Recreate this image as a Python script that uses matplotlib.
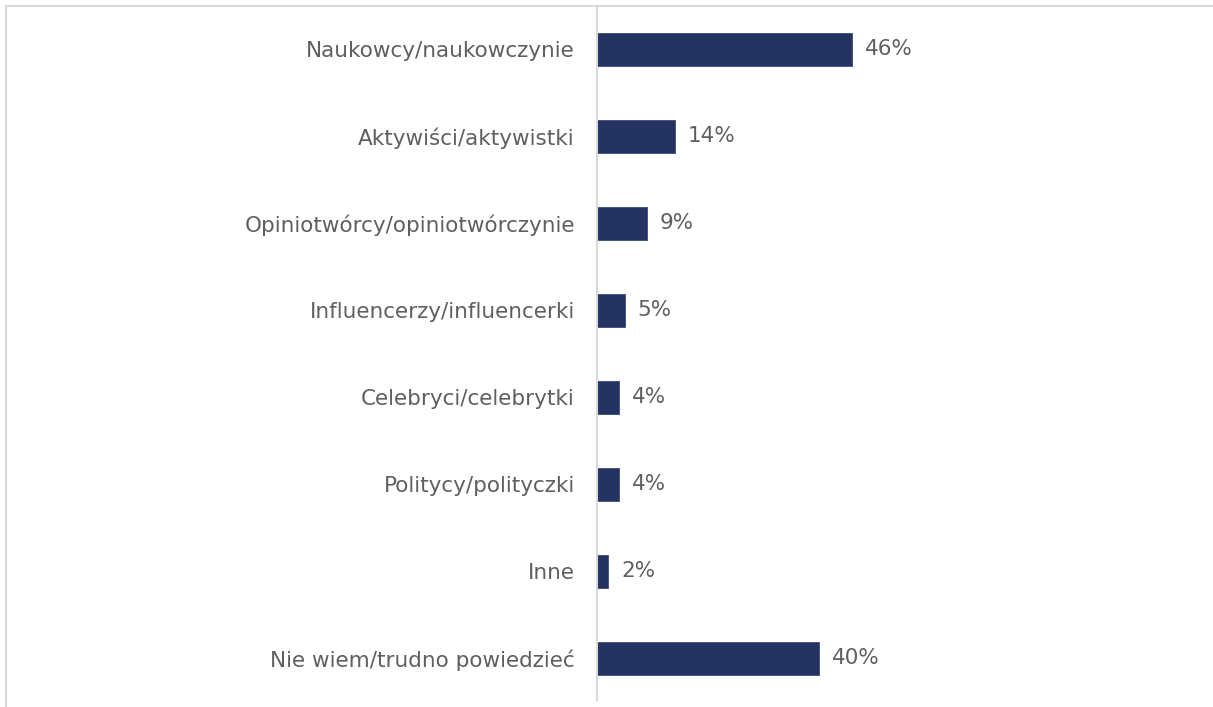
import matplotlib
matplotlib.use("Agg")
import matplotlib.pyplot as plt
from matplotlib.lines import Line2D

categories = [
    "Naukowcy/naukowczynie",
    "Aktywiści/aktywistki",
    "Opiniotwórcy/opiniotwórczynie",
    "Influencerzy/influencerki",
    "Celebryci/celebrytki",
    "Politycy/polityczki",
    "Inne",
    "Nie wiem/trudno powiedzieć",
]
values = [46, 14, 9, 5, 4, 4, 2, 40]
value_labels = ["46%", "14%", "9%", "5%", "4%", "4%", "2%", "40%"]

W, H = 1213, 707
fig = plt.figure(figsize=(W / 100, H / 100), dpi=100)
fig.patch.set_facecolor("white")

ax_left = 597 / W
ax_top = 6
ax_bottom = 700
ax = fig.add_axes([ax_left, 1 - ax_bottom / H, 1 - ax_left, (ax_bottom - ax_top) / H])

px_per_unit = 5.54
xmax = (W - 597) / px_per_unit
spacing = 87.0
ypos = list(range(len(categories)))
ax.barh(ypos, values, height=33 / spacing, color="#243362", edgecolor="#3b4a78", linewidth=0.6)
ax.set_xlim(0, xmax)
ax.set_ylim(len(categories) - 1 + (ax_bottom - 658) / spacing, -(49 - ax_top) / spacing)

FS = 15.5
TXT = "#5f5f5f"
ax.set_yticks(ypos)
ax.set_yticklabels(categories, fontsize=FS, color=TXT, family="DejaVu Sans")
ax.tick_params(axis="y", length=0, pad=16)
ax.set_xticks([])

for s in ["top", "right", "bottom"]:
    ax.spines[s].set_visible(False)
ax.spines["left"].set_color("#D9D9D9")
ax.spines["left"].set_linewidth(1.5)

for y, v, lab in zip(ypos, values, value_labels):
    ax.annotate(lab, (v, y), xytext=(13, 0), textcoords="offset pixels",
                va="center", ha="left", fontsize=FS, color=TXT)

# outer frame (top and left)
fig.add_artist(Line2D([6 / W, 1], [1 - 6 / H, 1 - 6 / H], transform=fig.transFigure,
                      color="#D9D9D9", linewidth=1.5))
fig.add_artist(Line2D([6 / W, 6 / W], [0, 1 - 6 / H], transform=fig.transFigure,
                      color="#D9D9D9", linewidth=1.5))

fig.savefig("out.png", dpi=100, facecolor="white")
